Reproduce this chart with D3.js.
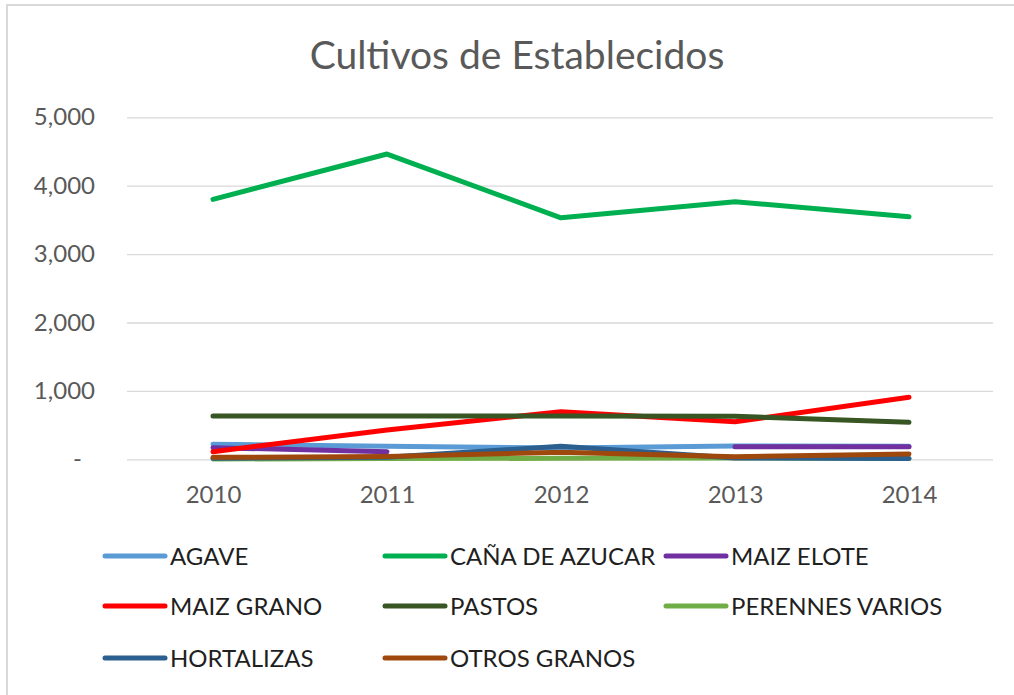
<!DOCTYPE html>
<html>
<head>
  <meta charset="utf-8">
  <title>Cultivos de Establecidos</title>
  <script src="https://d3js.org/d3.v7.min.js"></script>
  <style>
    body { margin: 0; background: #fff; }
    svg { display: block; }
    svg text { font-family: Lato, "Open Sans", sans-serif; }
  </style>
</head>
<body>
  <svg id="chart" width="1014" height="695"></svg>

  <script>
    // Data
    const years = ['2010', '2011', '2012', '2013', '2014'];
    const seriesNames = ['AGAVE', 'CAÑA DE AZUCAR', 'MAIZ ELOTE', 'MAIZ GRANO', 'PASTOS',
      'PERENNES VARIOS', 'HORTALIZAS', 'OTROS GRANOS'];
    const agave      = [220, 190, 165, 195, 190];
    const canaAzucar = [3800, 4463, 3530, 3766, 3547];
    const maizElote  = [170, 111, null, 184, 184];
    const maizGrano  = [111, 428, 696, 550, 906];
    const pastos     = [633, 633, 633, 630, 541];
    const perennes   = [5, 10, 15, 20, 10];
    const hortalizas = [15, 30, 190, 20, 12];
    const otrosGranos = [29, 40, 102, 38, 78];
    const yTicks = [0, 1000, 2000, 3000, 4000, 5000];

    const seriesValues = [agave, canaAzucar, maizElote, maizGrano, pastos, perennes, hortalizas, otrosGranos];
    const colors = ['#5B9BD5', '#00B050', '#7030A0', '#FF0000', '#375623', '#70AD47', '#2A5F8F', '#9E480E'];

    const series = seriesNames.map((name, i) => ({
      name: name,
      color: colors[i],
      values: years.map((y, j) => ({ year: y, value: seriesValues[i][j] }))
    }));

    const svg = d3.select('#chart');

    // Chart frame (top and left edges only are visible)
    svg.append('path')
      .attr('d', 'M7,700 L7,5 L1020,5')
      .attr('fill', 'none')
      .attr('stroke', '#d9d9d9')
      .attr('stroke-width', 2);

    // Title
    svg.append('text')
      .attr('x', 517)
      .attr('y', 69)
      .attr('text-anchor', 'middle')
      .attr('fill', '#595959')
      .style('font-size', '39px')
      .text('Cultivos de Establecidos');

    // Scales
    const x = d3.scalePoint()
      .domain(years)
      .range([213, 909]);

    const y = d3.scaleLinear()
      .domain([0, 5000])
      .range([459.3, 117.3]);

    const plotLeft = 127, plotRight = 993;

    // Y axis with gridlines
    const yAxis = svg.append('g')
      .attr('transform', `translate(${plotLeft},0)`)
      .call(d3.axisLeft(y)
        .tickValues(yTicks)
        .tickSize(-(plotRight - plotLeft))
        .tickPadding(32)
        .tickFormat(d => d === 0 ? '-' : d3.format(',')(d)));
    yAxis.select('.domain').remove();
    yAxis.selectAll('.tick line')
      .attr('stroke', '#d9d9d9')
      .attr('stroke-width', 1.3);
    yAxis.selectAll('.tick text')
      .attr('fill', '#595959')
      .style('font-size', '24px')
      .attr('dx', d => d === 0 ? -13 : 0);

    // X axis
    const xAxis = svg.append('g')
      .attr('transform', `translate(0,${y(0)})`)
      .call(d3.axisBottom(x).tickSize(0).tickPadding(27));
    xAxis.select('.domain').remove();
    xAxis.selectAll('.tick text')
      .attr('fill', '#595959')
      .style('font-size', '24px');

    // Lines
    const line = d3.line()
      .defined(d => d.value !== null)
      .x(d => x(d.year))
      .y(d => y(d.value));

    svg.append('g')
      .selectAll('path')
      .data(series)
      .join('path')
      .attr('d', d => line(d.values))
      .attr('fill', 'none')
      .attr('stroke', d => d.color)
      .attr('stroke-width', 5)
      .attr('stroke-linecap', 'round')
      .attr('stroke-linejoin', 'round');

    // Legend: 3 columns
    const legendCols = [103, 383, 664];
    const legendRows = [556, 606, 658];

    const legend = svg.append('g')
      .selectAll('g')
      .data(series)
      .join('g')
      .attr('transform', (d, i) => `translate(${legendCols[i % 3]},${legendRows[Math.floor(i / 3)]})`);

    legend.append('line')
      .attr('x1', 2)
      .attr('x2', 62)
      .attr('stroke', d => d.color)
      .attr('stroke-width', 5)
      .attr('stroke-linecap', 'round');

    legend.append('text')
      .attr('x', 67)
      .attr('dy', '0.36em')
      .attr('fill', '#1f1f1f')
      .style('font-size', '24px')
      .text(d => d.name);
  </script>
</body>
</html>
